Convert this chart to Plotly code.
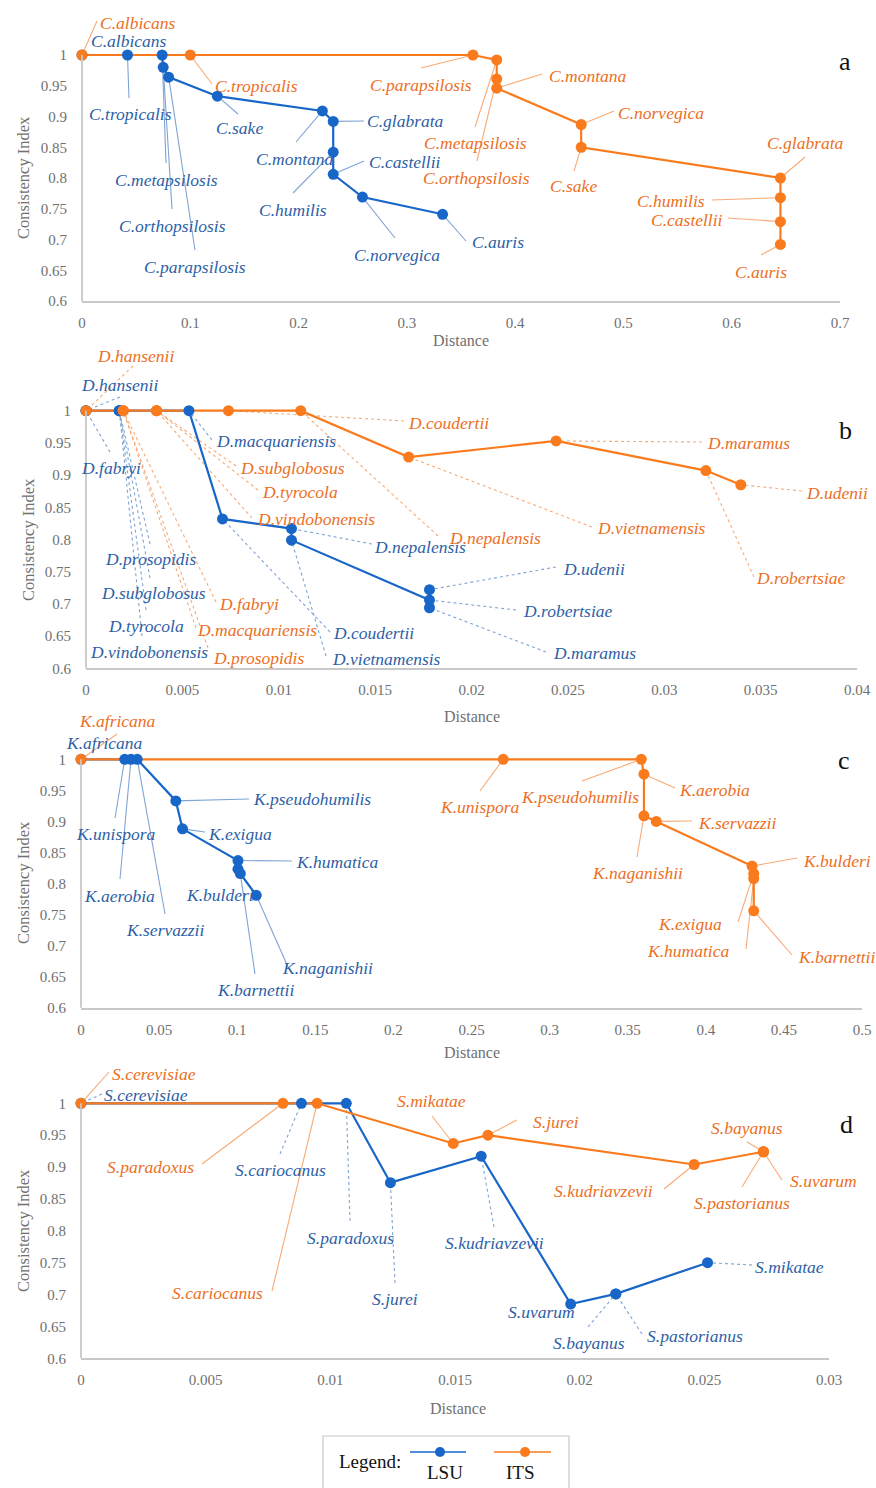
import plotly.graph_objects as go

# ---------------- data ----------------
# Panel a (Candida)
a_lsu_species = ["C.albicans", "C.tropicalis", "C.metapsilosis", "C.orthopsilosis", "C.parapsilosis",
                 "C.sake", "C.montana", "C.glabrata", "C.humilis", "C.castellii", "C.norvegica", "C.auris"]
a_lsu_dist = [0, 0.042, 0.074, 0.075, 0.080, 0.125, 0.222, 0.232, 0.232, 0.232, 0.259, 0.333]
a_lsu_ci = [1, 1, 1, 0.98, 0.964, 0.933, 0.909, 0.892, 0.842, 0.806, 0.769, 0.741]

a_its_species = ["C.albicans", "C.tropicalis", "C.parapsilosis", "C.metapsilosis", "C.orthopsilosis",
                 "C.montana", "C.norvegica", "C.sake", "C.glabrata", "C.humilis", "C.castellii", "C.auris"]
a_its_dist = [0, 0.100, 0.361, 0.383, 0.383, 0.383, 0.461, 0.461, 0.645, 0.645, 0.645, 0.645]
a_its_ci = [1, 1, 1, 0.992, 0.961, 0.946, 0.887, 0.850, 0.800, 0.768, 0.729, 0.692]

# Panel b (Debaryomyces)
b_lsu_species = ["D.hansenii", "D.fabryi", "D.prosopidis", "D.subglobosus", "D.tyrocola", "D.vindobonensis",
                 "D.macquariensis", "D.coudertii", "D.nepalensis", "D.vietnamensis", "D.robertsiae",
                 "D.udenii", "D.maramus"]
b_lsu_dist = [0, 0, 0.00173, 0.00173, 0.00173, 0.00173, 0.00534, 0.00708, 0.01066, 0.01066,
              0.01782, 0.01782, 0.01782]
b_lsu_ci = [1, 1, 1, 1, 1, 1, 1, 0.832, 0.817, 0.799, 0.706, 0.722, 0.694]

b_its_species = ["D.hansenii", "D.fabryi", "D.macquariensis", "D.prosopidis", "D.subglobosus", "D.tyrocola",
                 "D.vindobonensis", "D.coudertii", "D.nepalensis", "D.vietnamensis", "D.maramus",
                 "D.robertsiae", "D.udenii"]
b_its_dist = [0, 0.00193, 0.00193, 0.00193, 0.00366, 0.00366, 0.00366, 0.00739, 0.01114, 0.01674,
              0.02439, 0.03216, 0.03397]
b_its_ci = [1, 1, 1, 1, 1, 1, 1, 1, 1, 0.928, 0.953, 0.907, 0.885]

# Panel c (Kazachstania)
c_lsu_species = ["K.africana", "K.unispora", "K.aerobia", "K.servazzii", "K.pseudohumilis", "K.exigua",
                 "K.humatica", "K.bulderi", "K.barnettii", "K.naganishii"]
c_lsu_dist = [0, 0.028, 0.032, 0.036, 0.0607, 0.065, 0.1005, 0.1005, 0.102, 0.1122]
c_lsu_ci = [1, 1, 1, 1, 0.933, 0.888, 0.837, 0.823, 0.816, 0.781]

c_its_species = ["K.africana", "K.unispora", "K.pseudohumilis", "K.aerobia", "K.naganishii", "K.servazzii",
                 "K.bulderi", "K.exigua", "K.humatica", "K.barnettii"]
c_its_dist = [0, 0.2703, 0.3587, 0.3604, 0.3604, 0.3683, 0.4296, 0.4307, 0.4307, 0.4307]
c_its_ci = [1, 1, 1, 0.976, 0.909, 0.900, 0.828, 0.816, 0.808, 0.756]

# Panel d (Saccharomyces)
d_lsu_species = ["S.cerevisiae", "S.cariocanus", "S.paradoxus", "S.jurei", "S.kudriavzevii", "S.uvarum",
                 "S.bayanus", "S.pastorianus", "S.mikatae"]
d_lsu_dist = [0, 0.00884, 0.01064, 0.01241, 0.01605, 0.01964, 0.02145, 0.02145, 0.02513]
d_lsu_ci = [1, 1, 1, 0.8755, 0.917, 0.685, 0.701, 0.701, 0.750]

d_its_species = ["S.cerevisiae", "S.paradoxus", "S.cariocanus", "S.mikatae", "S.jurei", "S.kudriavzevii",
                 "S.bayanus", "S.uvarum", "S.pastorianus"]
d_its_dist = [0, 0.0081, 0.00947, 0.01493, 0.01632, 0.02459, 0.02737, 0.02737, 0.02737]
d_its_ci = [1, 1, 1, 0.937, 0.950, 0.904, 0.924, 0.924, 0.924]

# Tick labels
y_tick_vals = [0.6, 0.65, 0.7, 0.75, 0.8, 0.85, 0.9, 0.95, 1.0]
y_tick_text = ["0.6", "0.65", "0.7", "0.75", "0.8", "0.85", "0.9", "0.95", "1"]
a_x_vals = [0, 0.1, 0.2, 0.3, 0.4, 0.5, 0.6, 0.7]
a_x_text = ["0", "0.1", "0.2", "0.3", "0.4", "0.5", "0.6", "0.7"]
b_x_vals = [0, 0.005, 0.01, 0.015, 0.02, 0.025, 0.03, 0.035, 0.04]
b_x_text = ["0", "0.005", "0.01", "0.015", "0.02", "0.025", "0.03", "0.035", "0.04"]
c_x_vals = [0, 0.05, 0.1, 0.15, 0.2, 0.25, 0.3, 0.35, 0.4, 0.45, 0.5]
c_x_text = ["0", "0.05", "0.1", "0.15", "0.2", "0.25", "0.3", "0.35", "0.4", "0.45", "0.5"]
d_x_vals = [0, 0.005, 0.01, 0.015, 0.02, 0.025, 0.03]
d_x_text = ["0", "0.005", "0.01", "0.015", "0.02", "0.025", "0.03"]

series_names = ["LSU", "ITS"]

# ---------------- layout / style ----------------
PAGE_W, PAGE_H = 876, 1488
OFF = 0                          # page body margin removed via post_script below
W, H = PAGE_W - OFF, PAGE_H - OFF
YTOP_MAX = 1.08
FONT = "Liberation Serif"
BLUE, ORANGE = "#1766C8", "#F97B1E"
TXT = {"L": "#2E5FA6", "I": "#EC6F24"}
LEAD = {"L": "#7FA4D5", "I": "#F8AA76"}
AXIS_GRAY = "#C8C8C8"
TICK_GRAY = "#707070"
LBL_SIZE = 17.5

# label layouts (page px): (series, species, label centre x, y, leader start x, y)
a_labels = [
    ("L", "C.albicans", 128.5, 40.7, None, None),
    ("L", "C.tropicalis", 130, 114, 129, 98),
    ("L", "C.metapsilosis", 166, 180, 166, 163),
    ("L", "C.orthopsilosis", 172, 226, 172, 209),
    ("L", "C.parapsilosis", 195, 267, 195, 250),
    ("L", "C.sake", 239.5, 128, 238, 114),
    ("L", "C.montana", 295, 159, 296, 142),
    ("L", "C.glabrata", 405, 121, 364, 121),
    ("L", "C.castellii", 405, 162, 364, 161),
    ("L", "C.humilis", 293, 210, 293, 193),
    ("L", "C.norvegica", 397, 255, 395, 238),
    ("L", "C.auris", 498.5, 242, 466, 241),
    ("I", "C.albicans", 138, 22.7, 97, 21),
    ("I", "C.tropicalis", 256, 86, 212, 84),
    ("I", "C.parapsilosis", 421, 85, 421, 68),
    ("I", "C.montana", 588, 76, 542, 74),
    ("I", "C.metapsilosis", 475, 143, 475, 127),
    ("I", "C.orthopsilosis", 476, 178, 477, 161),
    ("I", "C.norvegica", 661, 113, 614, 111),
    ("I", "C.sake", 573, 186, 574, 171),
    ("I", "C.glabrata", 805, 143, 805, 157),
    ("I", "C.humilis", 671, 201, 712, 200),
    ("I", "C.castellii", 687, 220, 728, 218),
    ("I", "C.auris", 761, 272, 761, 255),
]
b_labels = [
    ("L", "D.hansenii", 119.5, 385, 120, 397),
    ("L", "D.fabryi", 111, 468, 110, 452),
    ("L", "D.macquariensis", 275.5, 441, 212, 440),
    ("L", "D.prosopidis", 150, 559, 150, 544),
    ("L", "D.subglobosus", 153, 593, 150, 578),
    ("L", "D.tyrocola", 146, 626, 146, 610),
    ("L", "D.vindobonensis", 149, 652, 142, 636),
    ("L", "D.nepalensis", 420, 547, 372, 544),
    ("L", "D.coudertii", 373, 633, 330, 632),
    ("L", "D.vietnamensis", 386, 659, 326, 656),
    ("L", "D.udenii", 594, 569, 556, 567),
    ("L", "D.robertsiae", 568, 611, 516, 610),
    ("L", "D.maramus", 594, 653, 546, 652),
    ("I", "D.hansenii", 135, 356, 133, 366),
    ("I", "D.coudertii", 448, 423, 404, 421),
    ("I", "D.subglobosus", 292, 468, 236, 466),
    ("I", "D.tyrocola", 300, 492, 258, 490),
    ("I", "D.vindobonensis", 316, 519, 252, 518),
    ("I", "D.nepalensis", 495, 538, 438, 536),
    ("I", "D.vietnamensis", 651, 528, 592, 527),
    ("I", "D.maramus", 748, 443, 702, 442),
    ("I", "D.udenii", 837, 493, 802, 491),
    ("I", "D.robertsiae", 801, 578, 754, 577),
    ("I", "D.fabryi", 249, 604, 216, 602),
    ("I", "D.macquariensis", 257, 630, 196, 628),
    ("I", "D.prosopidis", 258, 658, 208, 648),
]
c_labels = [
    ("I", "K.africana", 117, 721, 117, 734),
    ("I", "K.unispora", 480, 807, 480, 791),
    ("I", "K.pseudohumilis", 580, 797, 582, 781),
    ("I", "K.aerobia", 714, 790, 675, 788),
    ("I", "K.servazzii", 737, 823, 692, 821),
    ("I", "K.naganishii", 637, 873, 637, 857),
    ("I", "K.bulderi", 837, 861, 797, 858),
    ("I", "K.exigua", 690, 924, 738, 922),
    ("I", "K.humatica", 688, 951, 746, 949),
    ("I", "K.barnettii", 836, 957, 792, 955),
    ("L", "K.africana", 104.5, 743, None, None),
    ("L", "K.unispora", 116, 834, 115, 818),
    ("L", "K.aerobia", 119, 896, 120, 879),
    ("L", "K.servazzii", 165, 930, 165, 914),
    ("L", "K.pseudohumilis", 312, 799, 249, 799),
    ("L", "K.exigua", 240, 834, 205, 832),
    ("L", "K.humatica", 337, 862, 292, 861),
    ("L", "K.bulderi", 220, 895, None, None),
    ("L", "K.barnettii", 255, 990, 255, 974),
    ("L", "K.naganishii", 327, 968, 288, 967),
]
d_labels = [
    ("I", "S.cerevisiae", 154, 1074, 109, 1072),
    ("I", "S.paradoxus", 150, 1167, 202, 1164),
    ("I", "S.cariocanus", 217, 1293, 272, 1291),
    ("I", "S.mikatae", 431, 1101, 432, 1116),
    ("I", "S.jurei", 556, 1122, 517, 1120),
    ("I", "S.kudriavzevii", 603, 1191, 664, 1189),
    ("I", "S.bayanus", 747, 1128, 747, 1142),
    ("I", "S.uvarum", 823, 1181, 782, 1180),
    ("I", "S.pastorianus", 742, 1203, 742, 1187),
    ("L", "S.cerevisiae", 146, 1095, 102, 1094),
    ("L", "S.cariocanus", 280.5, 1170, 280, 1154),
    ("L", "S.paradoxus", 350, 1238, 350, 1221),
    ("L", "S.jurei", 395, 1299, 395, 1283),
    ("L", "S.kudriavzevii", 494, 1243, 494, 1227),
    ("L", "S.uvarum", 541.7, 1312, None, None),
    ("L", "S.bayanus", 589, 1343, 588, 1327),
    ("L", "S.pastorianus", 695, 1336, 642, 1334),
    ("L", "S.mikatae", 789, 1267, 752, 1265),
]

panels = [
    dict(letter="a", x0=82, x1=840, xmax=0.7, y1=55, y06=301, xv=a_x_vals, xt=a_x_text,
         lsu=(a_lsu_species, a_lsu_dist, a_lsu_ci), its=(a_its_species, a_its_dist, a_its_ci),
         labels=a_labels, dash={"L": "solid", "I": "solid"},
         letter_pos=(845, 62), ytitle=(23, 178), xtitle=(461, 341)),
    dict(letter="b", x0=86, x1=857, xmax=0.04, y1=410.7, y06=668.3, xv=b_x_vals, xt=b_x_text,
         lsu=(b_lsu_species, b_lsu_dist, b_lsu_ci), its=(b_its_species, b_its_dist, b_its_ci),
         labels=b_labels, dash={"L": "dot", "I": "dot"},
         letter_pos=(845, 430), ytitle=(28, 540), xtitle=(472, 716)),
    dict(letter="c", x0=81, x1=862, xmax=0.5, y1=759.3, y06=1007.7, xv=c_x_vals, xt=c_x_text,
         lsu=(c_lsu_species, c_lsu_dist, c_lsu_ci), its=(c_its_species, c_its_dist, c_its_ci),
         labels=c_labels, dash={"L": "solid", "I": "solid"},
         letter_pos=(844, 760), ytitle=(23, 883), xtitle=(472, 1052)),
    dict(letter="d", x0=81, x1=829, xmax=0.03, y1=1103.3, y06=1358.3, xv=d_x_vals, xt=d_x_text,
         lsu=(d_lsu_species, d_lsu_dist, d_lsu_ci), its=(d_its_species, d_its_dist, d_its_ci),
         labels=d_labels, dash={"L": "dot", "I": "solid"},
         letter_pos=(846, 1124), ytitle=(23, 1231), xtitle=(458, 1408)),
]


def fx(px):
    return (px - OFF) / W


def fy(py):
    return 1 - (py - OFF) / H


def paper(px, py):
    return fx(px), fy(py)


fig = go.Figure()
layout_axes = {}
shapes = []
annots = []

for i, p in enumerate(panels):
    n = i + 1
    xa = "x" if n == 1 else f"x{n}"
    ya = "y" if n == 1 else f"y{n}"
    s = (p["y06"] - p["y1"]) / 0.4
    ytop = min(YTOP_MAX, 1 + (p["y1"] - OFF - 0.5) / s)
    top = p["y1"] - (ytop - 1) * s

    layout_axes["xaxis" if n == 1 else f"xaxis{n}"] = dict(
        domain=[fx(p["x0"]), fx(p["x1"])], range=[0, p["xmax"]], anchor=ya,
        tickvals=p["xv"], ticktext=p["xt"], ticks="outside", ticklen=7,
        tickcolor="rgba(0,0,0,0)", tickfont=dict(family=FONT, size=15, color=TICK_GRAY),
        showgrid=False, zeroline=False, showline=True, linecolor=AXIS_GRAY, linewidth=1.8,
        automargin=False, fixedrange=True)
    layout_axes["yaxis" if n == 1 else f"yaxis{n}"] = dict(
        domain=[fy(p["y06"]), min(1.0, fy(top))], range=[0.6, ytop], anchor=xa,
        tickvals=y_tick_vals, ticktext=y_tick_text, ticks="outside", ticklen=11,
        tickcolor="rgba(0,0,0,0)", tickfont=dict(family=FONT, size=15, color=TICK_GRAY),
        showgrid=False, zeroline=False, showline=False, automargin=False, fixedrange=True)

    def to_px(x, y, p=p, s=s):
        return (p["x0"] + x / p["xmax"] * (p["x1"] - p["x0"]), p["y06"] - (y - 0.6) * s)

    # y axis line from 0.6 to 1
    ax0, ay0 = paper(*to_px(0, min(y_tick_vals)))
    ax1, ay1 = paper(*to_px(0, max(y_tick_vals)))
    shapes.append(dict(type="line", xref="paper", yref="paper", x0=ax0, x1=ax1, y0=ay0, y1=ay1,
                       line=dict(color=AXIS_GRAY, width=1.8)))

    sers = {"L": p["lsu"], "I": p["its"]}
    cols = {"L": BLUE, "I": ORANGE}
    # lines first, then markers
    for key, name in zip(["L", "I"], series_names):
        sp, dx, dy = sers[key]
        fig.add_trace(go.Scatter(x=dx, y=dy, mode="lines", line=dict(color=cols[key], width=2.2),
                                 xaxis=xa, yaxis=ya, showlegend=False, hoverinfo="skip", name=name))
    for key, name in zip(["L", "I"], series_names):
        sp, dx, dy = sers[key]
        fig.add_trace(go.Scatter(x=dx, y=dy, mode="markers", marker=dict(color=cols[key], size=11),
                                 xaxis=xa, yaxis=ya, showlegend=False, name=name, cliponaxis=False,
                                 text=sp, hovertemplate="%{text}<br>%{x}, %{y}<extra>" + name + "</extra>"))

    # species labels + leaders
    for (key, sp_name, cx, cy, lx, ly) in p["labels"]:
        sp, dx, dy = sers[key]
        k = sp.index(sp_name)
        if lx is not None:
            hx, hy = to_px(dx[k], dy[k])
            px0, py0 = paper(lx, ly)
            px1, py1 = paper(hx, hy)
            shapes.append(dict(type="line", xref="paper", yref="paper", x0=px0, y0=py0, x1=px1, y1=py1,
                               layer="below",
                               line=dict(color=LEAD[key], width=1.1, dash=p["dash"][key])))
        tx, ty = paper(cx, cy)
        annots.append(dict(xref="paper", yref="paper", x=tx, y=ty, text=f"<i>{sp_name}</i>",
                           showarrow=False, xanchor="center", yanchor="middle",
                           font=dict(family=FONT, size=LBL_SIZE, color=TXT[key])))

    # panel letter, axis titles
    lx_, ly_ = paper(*p["letter_pos"])
    annots.append(dict(xref="paper", yref="paper", x=lx_, y=ly_, text=p["letter"], showarrow=False,
                       xanchor="center", yanchor="middle", font=dict(family=FONT, size=26, color="#111111")))
    tx, ty = paper(*p["ytitle"])
    annots.append(dict(xref="paper", yref="paper", x=tx, y=ty, text="Consistency Index", showarrow=False,
                       textangle=-90, xanchor="center", yanchor="middle",
                       font=dict(family=FONT, size=16.5, color=TICK_GRAY)))
    tx, ty = paper(*p["xtitle"])
    annots.append(dict(xref="paper", yref="paper", x=tx, y=ty, text="Distance", showarrow=False,
                       xanchor="center", yanchor="middle", font=dict(family=FONT, size=16, color=TICK_GRAY)))

# ---------------- custom legend box ----------------
bx0, by0 = paper(323, 1436)
bx1, by1 = paper(569, 1492)
shapes.append(dict(type="rect", xref="paper", yref="paper", x0=bx0, y0=by1, x1=bx1, y1=by0,
                   line=dict(color="#C8C8C8", width=1.2), fillcolor="rgba(0,0,0,0)"))
tx, ty = paper(370, 1461)
annots.append(dict(xref="paper", yref="paper", x=tx, y=ty, text="Legend:", showarrow=False,
                   xanchor="center", yanchor="middle", font=dict(family=FONT, size=19, color="#111111")))
for name, col, (lx0, lx1, mx, tcx) in zip(series_names, [BLUE, ORANGE],
                                         [(410, 466, 440, 445), (494, 551, 525, 520)]):
    x0p, yp = paper(lx0, 1452)
    x1p, _ = paper(lx1, 1452)
    shapes.append(dict(type="line", xref="paper", yref="paper", x0=x0p, x1=x1p, y0=yp, y1=yp,
                       line=dict(color=col, width=1.5)))
    cx0, cy0 = paper(mx - 5, 1452 - 5)
    cx1, cy1 = paper(mx + 5, 1452 + 5)
    shapes.append(dict(type="circle", xref="paper", yref="paper", x0=cx0, x1=cx1, y0=cy1, y1=cy0,
                       line=dict(color=col, width=0), fillcolor=col))
    tx, ty = paper(tcx, 1472)
    annots.append(dict(xref="paper", yref="paper", x=tx, y=ty, text=name, showarrow=False,
                       xanchor="center", yanchor="middle", font=dict(family=FONT, size=19, color="#111111")))

fig.update_layout(
    width=W, height=H, margin=dict(l=0, r=0, t=0, b=0, pad=0, autoexpand=False),
    paper_bgcolor="white", plot_bgcolor="white",
    showlegend=False, shapes=shapes, annotations=annots,
    font=dict(family=FONT),
    **layout_axes,
)

fig.write_html("out.html",
               config={"displayModeBar": False},
               post_script="document.body.style.margin='0px';document.body.style.overflow='hidden';")
